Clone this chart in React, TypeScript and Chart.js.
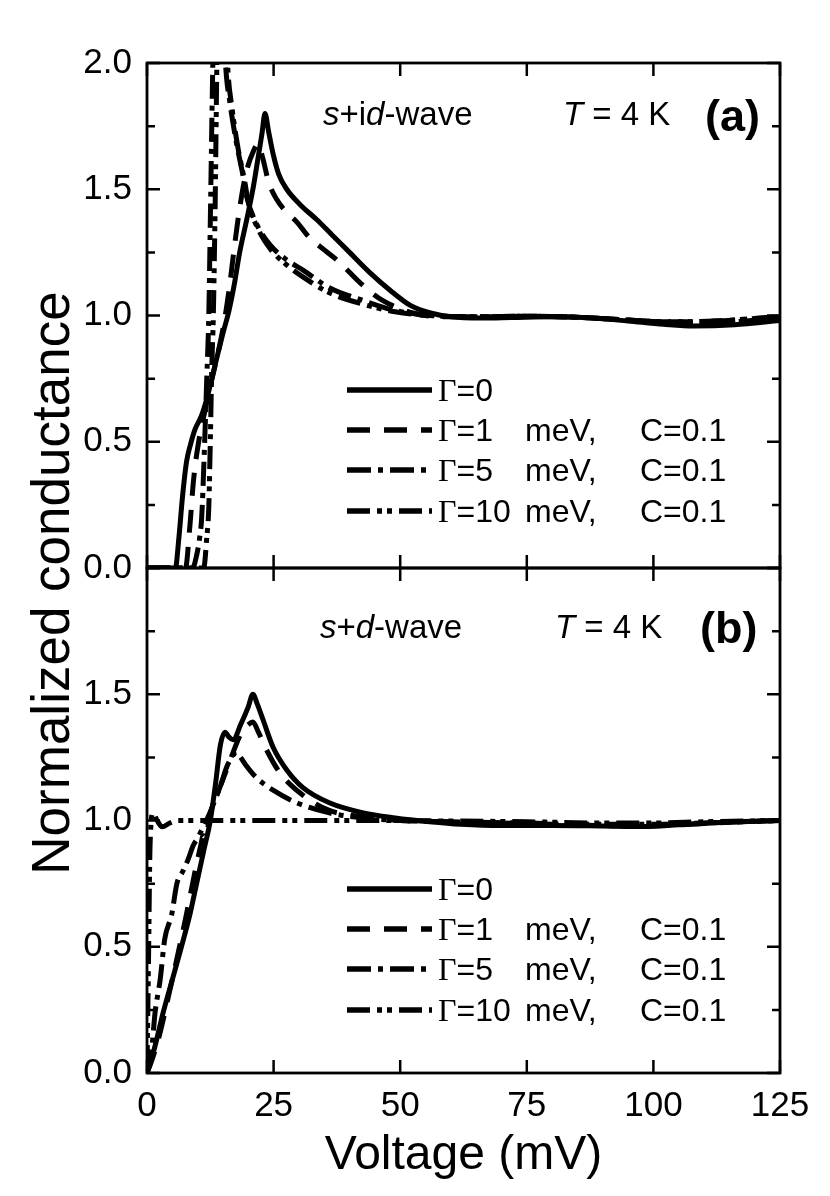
import React, { useEffect, useRef } from 'react';
import { Chart, registerables } from 'chart.js';

Chart.register(...registerables);

// ---------- data ----------
const X_TICKS = [0, 25, 50, 75, 100, 125];
const YA_TICKS = [0, 0.5, 1, 1.5, 2];
const YB_TICKS = [0, 0.5, 1, 1.5];
const Y_MAJOR = [0, 0.5, 1, 1.5, 2];
const Y_MINOR = [0.25, 0.75, 1.25, 1.75];

const GAMMA_LABELS = ['=0', '=1', '=5', '=10'];
const UNIT_LABELS = ['', 'meV,', 'meV,', 'meV,'];
const C_LABELS = ['', 'C=0.1', 'C=0.1', 'C=0.1'];

// Panel (a): s+id-wave
const A0_V = [0, 5.6, 6.3, 7.0, 7.8, 8.6, 9.5, 10.7, 11.8, 13.4, 15.0, 16.2, 17.3, 18.3, 19.7, 21.0, 21.9, 22.7, 23.3, 24.0, 24.9, 26.0, 27.6, 30.2, 33.5, 36.5, 40, 44, 48, 52, 56, 60, 66, 72, 80, 88, 95, 102, 108, 116, 125];
const A0_G = [0, 0, 0.12, 0.28, 0.42, 0.49, 0.55, 0.6, 0.67, 0.8, 0.93, 1.02, 1.13, 1.25, 1.38, 1.51, 1.62, 1.72, 1.80, 1.73, 1.64, 1.56, 1.50, 1.44, 1.38, 1.32, 1.25, 1.17, 1.10, 1.04, 1.01, 0.995, 0.99, 0.992, 0.995, 0.99, 0.978, 0.965, 0.958, 0.963, 0.98];

const A1_V = [0, 7.6, 8.4, 9.2, 10.2, 11.2, 12.5, 14.0, 15.2, 16.2, 17.0, 17.9, 19.0, 19.9, 21.0, 21.9, 22.9, 24.0, 25.6, 27.5, 29.6, 32, 35, 37.5, 42.6, 46.5, 52.5, 58, 66, 75, 85, 95, 103, 110, 118, 125];
const A1_G = [0, 0, 0.15, 0.35, 0.5, 0.6, 0.72, 0.85, 0.97, 1.1, 1.23, 1.37, 1.51, 1.59, 1.65, 1.68, 1.62, 1.53, 1.46, 1.41, 1.37, 1.31, 1.26, 1.22, 1.12, 1.06, 1.01, 0.995, 0.995, 0.997, 0.993, 0.982, 0.972, 0.97, 0.978, 0.99];

const A5_V = [0, 9.0, 9.8, 10.4, 10.8, 11.3, 11.8, 12.2, 12.6, 13.0, 13.6, 14.2, 14.9, 15.5, 16.4, 17.7, 19.0, 19.7, 21.7, 24.3, 27.6, 30.8, 36, 42.6, 49, 56, 65, 75, 85, 95, 103, 112, 125];
const A5_G = [0, 0, 0.05, 0.12, 0.2, 0.45, 0.75, 1.0, 1.5, 2.0, 2.5, 2.6, 2.3, 2.0, 1.84, 1.68, 1.55, 1.47, 1.36, 1.28, 1.22, 1.18, 1.11, 1.06, 1.02, 1.0, 0.995, 0.997, 0.993, 0.982, 0.975, 0.978, 0.995];

const A10_V = [0, 11.2, 11.8, 12.2, 12.5, 12.8, 13.1, 13.5, 13.8, 14.3, 14.9, 15.4, 15.9, 16.8, 18.0, 19.3, 20.0, 22.0, 24.5, 27.6, 31, 36, 42.6, 49, 56, 65, 75, 85, 95, 103, 112, 125];
const A10_G = [0, 0, 0.12, 0.24, 0.5, 0.8, 1.0, 1.5, 2.0, 2.4, 2.5, 2.3, 2.0, 1.82, 1.66, 1.53, 1.45, 1.34, 1.26, 1.2, 1.15, 1.09, 1.045, 1.015, 1.0, 0.995, 0.997, 0.993, 0.982, 0.975, 0.978, 0.995];

// Panel (b): s+d-wave
const B0_V = [0, 1.5, 3.2, 5.0, 6.8, 8.5, 9.9, 11.2, 12.5, 13.5, 14.5, 15.4, 16.2, 17.0, 18.5, 20.0, 20.9, 21.8, 22.9, 24.9, 27.6, 30.8, 36, 42.7, 49, 55.8, 62, 70, 80, 90, 98, 105, 115, 125];
const B0_G = [0, 0.1, 0.24, 0.37, 0.5, 0.63, 0.76, 0.88, 1.0, 1.14, 1.3, 1.35, 1.33, 1.32, 1.38, 1.45, 1.50, 1.46, 1.40, 1.29, 1.20, 1.13, 1.07, 1.03, 1.01, 0.995, 0.985, 0.98, 0.98, 0.978, 0.976, 0.983, 0.994, 1.0];

const B1_V = [0, 0.6, 2.2, 4.2, 6.2, 7.8, 9.4, 10.6, 11.1, 11.6, 12.4, 14.0, 15.7, 17.0, 18.7, 20.0, 20.9, 22.0, 23.6, 26.2, 30.8, 36, 42.7, 50, 60, 70, 80, 90, 97, 105, 115, 125];
const B1_G = [0, 0.03, 0.13, 0.3, 0.48, 0.63, 0.79, 0.9, 0.94, 0.93, 1.02, 1.11, 1.2, 1.27, 1.35, 1.38, 1.39, 1.35, 1.28, 1.19, 1.1, 1.04, 1.015, 1.0, 0.995, 0.99, 0.985, 0.98, 0.978, 0.983, 0.993, 1.0];

const B5_V = [0, 0.95, 1.6, 2.6, 3.5, 4.9, 5.9, 7.1, 8.2, 9.1, 10.0, 11.0, 12.4, 13.4, 14.4, 15.7, 16.7, 17.7, 18.5, 19.5, 21.6, 24.9, 29.6, 36, 42.7, 50, 60, 75, 90, 100, 110, 125];
const B5_G = [0, 0.1, 0.24, 0.37, 0.53, 0.63, 0.75, 0.8, 0.85, 0.9, 0.93, 0.97, 1.03, 1.08, 1.13, 1.21, 1.25, 1.27, 1.25, 1.22, 1.17, 1.12, 1.07, 1.03, 1.01, 1.0, 0.995, 0.99, 0.985, 0.985, 0.99, 1.0];

const B10_V = [0, 0.3, 0.6, 1.2, 2.0, 3.0, 4.5, 6, 15, 30, 45, 60, 75, 90, 100, 110, 125];
const B10_G = [0.02, 0.45, 0.9, 1.03, 1.0, 0.975, 0.99, 1.0, 1.0, 1.0, 1.0, 0.998, 0.995, 0.99, 0.99, 0.995, 1.0];

// ---------- styles ----------
const SANS = "'Liberation Sans', Arial, Helvetica, sans-serif";
const SERIF = "'Liberation Serif', 'Times New Roman', serif";
const DASHES: number[][] = [[], [23, 14], [24, 7, 5, 7], [23, 7, 5, 5, 5, 7]];

const mk = (V: number[], G: number[]) => V.map((v, i) => ({ x: v, y: G[i] }));

type Run = { t: string; italic?: boolean; bold?: boolean; serif?: boolean };

function drawRuns(ctx: CanvasRenderingContext2D, runs: Run[], x: number, y: number, size: number) {
  let cx = x;
  for (const r of runs) {
    ctx.font = `${r.italic ? 'italic ' : ''}${r.bold ? 'bold ' : ''}${size}px ${r.serif ? SERIF : SANS}`;
    ctx.fillText(r.t, cx, y);
    cx += ctx.measureText(r.t).width;
  }
}

const PANELS = [
  {
    axis: 'yA',
    title: [{ t: 's', italic: true }, { t: '+i' }, { t: 'd', italic: true }, { t: '-wave' }] as Run[],
    titleDx: 176, titleDy: 62, tDx: 416, tag: '(a)', tagDx: 558, tagDy: 68,
    rows: [327, 367, 407, 448],
  },
  {
    axis: 'yB',
    title: [{ t: 's', italic: true }, { t: '+' }, { t: 'd', italic: true }, { t: '-wave' }] as Run[],
    titleDx: 173, titleDy: 70, tDx: 408, tag: '(b)', tagDx: 553, tagDy: 75,
    rows: [321, 361, 401, 442],
  },
];

const decorPlugin = {
  id: 'decor',
  afterDraw(chart: any) {
    const ctx: CanvasRenderingContext2D = chart.ctx;
    const xs = chart.scales.x;
    const left = xs.getPixelForValue(0);
    const right = xs.getPixelForValue(125);
    ctx.save();
    ctx.strokeStyle = '#000';
    ctx.fillStyle = '#000';
    for (const p of PANELS) {
      const ys = chart.scales[p.axis];
      const top = ys.getPixelForValue(2);
      const bottom = ys.getPixelForValue(0);
      ctx.setLineDash([]);
      ctx.lineWidth = 2.5;
      ctx.beginPath();
      for (const v of Y_MAJOR) {
        const py = ys.getPixelForValue(v);
        ctx.moveTo(left, py); ctx.lineTo(left + 13, py);
        ctx.moveTo(right, py); ctx.lineTo(right - 13, py);
      }
      for (const v of Y_MINOR) {
        const py = ys.getPixelForValue(v);
        ctx.moveTo(left, py); ctx.lineTo(left + 8, py);
        ctx.moveTo(right, py); ctx.lineTo(right - 8, py);
      }
      for (const v of X_TICKS) {
        const px = xs.getPixelForValue(v);
        ctx.moveTo(px, bottom); ctx.lineTo(px, bottom - 13);
        ctx.moveTo(px, top); ctx.lineTo(px, top + 13);
      }
      ctx.stroke();
      ctx.lineWidth = 2.8;
      ctx.strokeRect(left, top, right - left, bottom - top);

      // annotations
      ctx.textAlign = 'left';
      ctx.textBaseline = 'alphabetic';
      drawRuns(ctx, p.title, left + p.titleDx, top + p.titleDy, 33);
      drawRuns(ctx, [{ t: 'T', italic: true }, { t: ' = 4 K' }], left + p.tDx, top + p.titleDy, 33);
      drawRuns(ctx, [{ t: p.tag, bold: true }], left + p.tagDx, top + p.tagDy, 45);

      // legend
      for (let i = 0; i < 4; i++) {
        const ry = top + p.rows[i];
        ctx.lineWidth = 5.5;
        ctx.setLineDash(DASHES[i]);
        ctx.beginPath();
        ctx.moveTo(347, ry);
        ctx.lineTo(432, ry);
        ctx.stroke();
        ctx.setLineDash([]);
        const by = ry + 11;
        drawRuns(ctx, [{ t: 'Γ', serif: true }, { t: GAMMA_LABELS[i] }], 438, by, 32);
        if (UNIT_LABELS[i]) drawRuns(ctx, [{ t: UNIT_LABELS[i] }], 525, by, 32);
        if (C_LABELS[i]) drawRuns(ctx, [{ t: C_LABELS[i] }], 640, by, 32);
      }
    }
    // y-axis title spanning both panels
    ctx.save();
    ctx.translate(69, 583);
    ctx.rotate(-Math.PI / 2);
    ctx.textAlign = 'center';
    ctx.textBaseline = 'alphabetic';
    ctx.font = `53px ${SANS}`;
    ctx.fillText('Normalized conductance', 0, 0);
    ctx.restore();
    ctx.restore();
  },
};

function ds(V: number[], G: number[], axis: string, style: number) {
  return {
    data: mk(V, G),
    yAxisID: axis,
    xAxisID: 'x',
    borderColor: '#000',
    backgroundColor: '#000',
    borderWidth: 5,
    borderDash: DASHES[style],
    pointRadius: 0,
    fill: false,
    cubicInterpolationMode: 'monotone' as const,
  };
}

function yAxis(ticksArr: number[]) {
  return {
    type: 'linear' as const,
    position: 'left' as const,
    stack: 'panels',
    stackWeight: 1,
    min: 0,
    max: 2,
    afterBuildTicks: (s: any) => { s.ticks = ticksArr.map((v) => ({ value: v })); },
    afterFit: (s: any) => { s.width = 147; },
    ticks: {
      autoSkip: false,
      color: '#000',
      padding: 15,
      font: { family: SANS, size: 35 },
      callback: (v: any) => Number(v).toFixed(1),
    },
    grid: { display: false, drawTicks: false },
    border: { display: false },
  };
}

export default function App() {
  const ref = useRef<HTMLCanvasElement | null>(null);
  useEffect(() => {
    if (!ref.current) return;
    const chart = new Chart(ref.current, {
      type: 'line',
      data: {
        datasets: [
          ds(A10_V, A10_G, 'yA', 3),
          ds(A5_V, A5_G, 'yA', 2),
          ds(A1_V, A1_G, 'yA', 1),
          ds(A0_V, A0_G, 'yA', 0),
          ds(B10_V, B10_G, 'yB', 3),
          ds(B5_V, B5_G, 'yB', 2),
          ds(B1_V, B1_G, 'yB', 1),
          ds(B0_V, B0_G, 'yB', 0),
        ] as any,
      },
      options: {
        animation: false,
        responsive: true,
        maintainAspectRatio: false,
        events: [],
        layout: { padding: { top: 63, right: 50, left: 0, bottom: 0 } },
        plugins: { legend: { display: false }, tooltip: { enabled: false } },
        scales: {
          x: {
            type: 'linear',
            position: 'bottom',
            min: 0,
            max: 125,
            afterBuildTicks: (s: any) => { s.ticks = X_TICKS.map((v) => ({ value: v })); },
            afterFit: (s: any) => { s.height = 123; },
            ticks: {
              autoSkip: false,
              maxRotation: 0,
              color: '#000',
              padding: 12,
              font: { family: SANS, size: 35 },
              callback: (v: any) => String(v),
            },
            grid: { display: false, drawTicks: false },
            border: { display: false },
            title: {
              display: true,
              text: 'Voltage (mV)',
              color: '#000',
              font: { family: SANS, size: 48 },
              padding: { top: 0, bottom: 11 },
            },
          },
          yB: yAxis(YB_TICKS),
          yA: yAxis(YA_TICKS),
        } as any,
      },
      plugins: [decorPlugin],
    });
    return () => chart.destroy();
  }, []);
  return (
    <div style={{ position: 'absolute', left: 0, top: 0, width: 830, height: 1196, background: '#fff' }}>
      <canvas ref={ref} />
    </div>
  );
}
